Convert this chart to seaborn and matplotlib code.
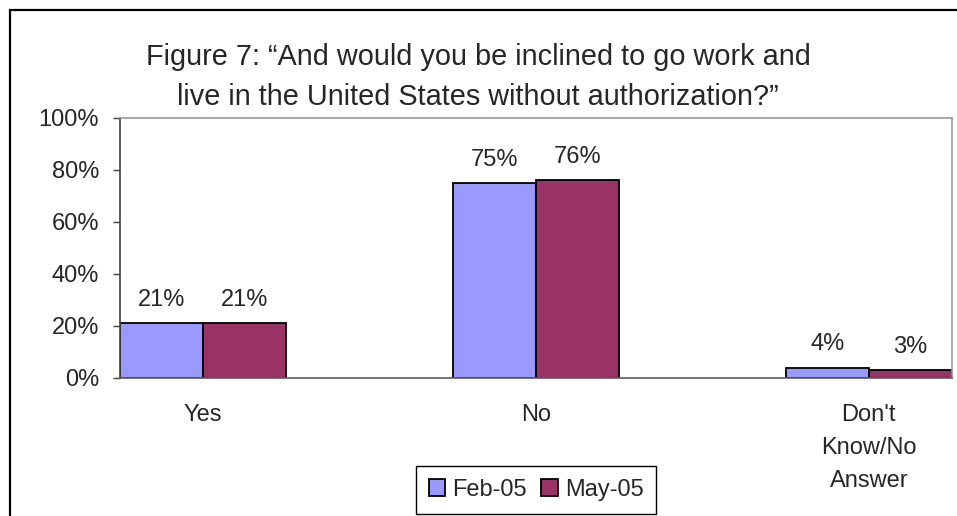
"""
Bar chart: inclination to work in the US without authorization (Feb-05 vs May-05).
"""

import matplotlib
matplotlib.use("Agg")
import matplotlib.pyplot as plt
from matplotlib.patches import Rectangle
from matplotlib.ticker import FixedLocator
import pandas as pd
import seaborn as sns

# data
answers = ["Yes", "No", "Don't\nKnow/No\nAnswer"]
periods = ["Feb-05", "May-05"]
feb_values = [21, 75, 4]
may_values = [21, 76, 3]
y_ticks = [0, 20, 40, 60, 80, 100]
colors = ["#9999FF", "#993366"]
title = ("Figure 7: \u201cAnd would you be inclined to go work and\n"
         "live in the United States without authorization?\u201d")

df = pd.DataFrame({
    "answer": answers * 2,
    "period": [periods[0]] * 3 + [periods[1]] * 3,
    "pct": feb_values + may_values,
})

sns.set_style("white")
plt.rcParams["font.family"] = ["Liberation Sans", "DejaVu Sans"]

fig = plt.figure(figsize=(9.57, 5.16), dpi=100)
ax = fig.add_axes([120 / 957, 138 / 516, 832 / 957, 260 / 516])

sns.barplot(
    data=df, x="answer", y="pct", hue="period", palette=colors,
    width=0.5, edgecolor="black", linewidth=1.3, errorbar=None,
    saturation=1, ax=ax,
)

for cont in ax.containers:
    ax.bar_label(cont, fmt="%g%%", padding=9, fontsize=17)

ax.set_xlim(-0.25, 2.25)
ax.set_ylim(0, 100)
ax.set_yticks(y_ticks)
ax.set_yticklabels([f"{t}%" for t in y_ticks])
ax.set_xlabel("")
ax.set_ylabel("")

# category labels without tick lines; tick marks sit at bar-group edges
ax.tick_params(axis="x", which="major", length=0, pad=19, labelsize=17)
for lbl in ax.get_xticklabels():
    lbl.set_linespacing(1.65)
ax.xaxis.set_minor_locator(FixedLocator([-0.25, 0.25, 0.75, 1.25, 1.75, 2.25]))
ax.tick_params(axis="x", which="minor", length=5, width=1, color="#808080",
               direction="out")
ax.tick_params(axis="y", length=5, width=1, color="#404040", direction="out",
               pad=10, labelsize=17, left=True)

for side in ["top", "right"]:
    ax.spines[side].set_visible(True)
    ax.spines[side].set_color("#999999")
    ax.spines[side].set_linewidth(1.2)
ax.spines["left"].set_color("#404040")
ax.spines["bottom"].set_color("#606060")
ax.spines["left"].set_linewidth(1.2)
ax.spines["bottom"].set_linewidth(1.2)

leg = ax.legend(
    loc="center", bbox_to_anchor=(536 / 957, 1 - 490 / 516),
    bbox_transform=fig.transFigure, ncol=2, fontsize=17, frameon=True,
    fancybox=False, framealpha=1, edgecolor="black", handlelength=0.7,
    handleheight=0.7, handletextpad=0.3, columnspacing=0.6,
    borderpad=0.55, title=None,
)
leg.get_frame().set_linewidth(1.0)
for h in leg.legend_handles:
    h.set_edgecolor("black")
    h.set_linewidth(1.3)

fig.text(478 / 957, 1 - 77 / 516, title, ha="center", va="center",
         fontsize=20.8, linespacing=1.55)

# outer chart frame, clipped at right and bottom like the original
fig.patches.append(Rectangle((10 / 957, -0.2), 1.2, 0.2 + (1 - 10 / 516),
                             transform=fig.transFigure, fill=False,
                             edgecolor="black", linewidth=1.6))

fig.savefig("out.png", dpi=100)
plt.close(fig)
